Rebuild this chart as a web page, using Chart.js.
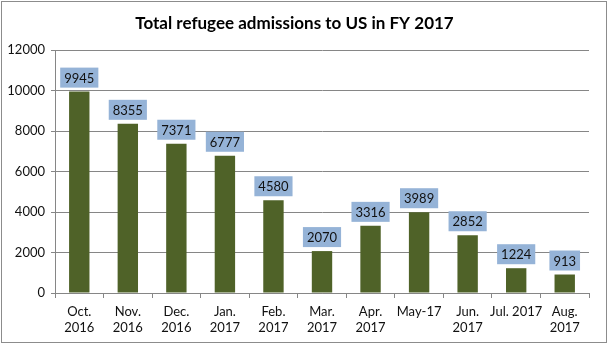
<!DOCTYPE html>
<html>
<head>
<meta charset="utf-8">
<script src="https://cdn.jsdelivr.net/npm/chart.js@4.4.0/dist/chart.umd.min.js"></script>
<style>
  html, body { margin: 0; padding: 0; background: #fff; }
  #wrap { width: 609px; height: 350px; position: relative; }
</style>
</head>
<body>
<div id="wrap"><canvas id="chart"></canvas></div>
<script>
// Months of FY 2017 (two-line labels where the original wraps)
const months = [
    ['Oct.', '2016'], ['Nov.', '2016'], ['Dec.', '2016'], ['Jan.', '2017'],
    ['Feb.', '2017'], ['Mar.', '2017'], ['Apr.', '2017'], 'May-17',
    ['Jun.', '2017'], 'Jul. 2017', ['Aug.', '2017']
];
const admissions = [9945, 8355, 7371, 6777, 4580, 2070, 3316, 3989, 2852, 1224, 913];
const yTicks = [0, 2000, 4000, 6000, 8000, 10000, 12000];

const FONT = 'Lato, "Open Sans", sans-serif';

// Blue boxes with the value above each bar
const valueBoxes = {
    id: 'valueBoxes',
    afterDatasetsDraw(chart) {
        const ctx = chart.ctx;
        const meta = chart.getDatasetMeta(0);
        const values = chart.data.datasets[0].data;
        ctx.save();
        ctx.font = '13px ' + FONT;
        ctx.textAlign = 'center';
        ctx.textBaseline = 'middle';
        meta.data.forEach((bar, i) => {
            const text = String(values[i]);
            const w = ctx.measureText(text).width + 8;
            const h = 20;
            const bottom = bar.y - 4;
            ctx.fillStyle = '#95b3d7';
            ctx.fillRect(bar.x - w / 2, bottom - h, w, h);
            ctx.fillStyle = '#111';
            ctx.fillText(text, bar.x, bottom - h / 2 + 1);
        });
        ctx.restore();
    }
};

// Thin grey frame round the whole picture
const frame = {
    id: 'frame',
    afterDraw(chart) {
        const ctx = chart.ctx;
        ctx.save();
        ctx.strokeStyle = '#8c8c8c';
        ctx.lineWidth = 1;
        ctx.strokeRect(1.5, 1.5, 605, 341);
        ctx.restore();
    }
};

new Chart(document.getElementById('chart'), {
    type: 'bar',
    data: {
        labels: months,
        datasets: [{
            data: admissions,
            backgroundColor: '#4f6228',
            barPercentage: 0.42,
            categoryPercentage: 1
        }]
    },
    options: {
        responsive: true,
        maintainAspectRatio: false,
        animation: false,
        events: [],
        layout: { padding: { left: 0, right: 20, top: 0, bottom: 0 } },
        plugins: {
            legend: { display: false },
            tooltip: { enabled: false },
            title: {
                display: true,
                text: 'Total refugee admissions to US in FY 2017',
                color: '#000',
                font: { family: FONT, size: 17, weight: 'bold', lineHeight: 1.2 },
                padding: { top: 13, bottom: 16.6 }
            }
        },
        scales: {
            x: {
                grid: {
                    display: true,
                    drawOnChartArea: false,
                    drawTicks: true,
                    tickLength: 5,
                    color: '#868686',
                    offset: true
                },
                border: { display: true, color: '#868686' },
                ticks: {
                    color: '#111',
                    font: { family: FONT, size: 13, lineHeight: 1.2 },
                    padding: 6,
                    maxRotation: 0,
                    autoSkip: false
                },
                afterFit(scale) { scale.height = 57; }
            },
            y: {
                min: 0,
                max: 12000,
                afterBuildTicks(scale) {
                    scale.ticks = yTicks.map(v => ({ value: v }));
                },
                grid: {
                    color: '#868686',
                    tickLength: 4
                },
                border: { display: true, color: '#868686' },
                ticks: {
                    color: '#111',
                    font: { family: FONT, size: 13 },
                    padding: 6,
                    callback: (value) => String(value)
                },
                afterFit(scale) { scale.width = 55; }
            }
        }
    },
    plugins: [valueBoxes, frame]
});
</script>
</body>
</html>
